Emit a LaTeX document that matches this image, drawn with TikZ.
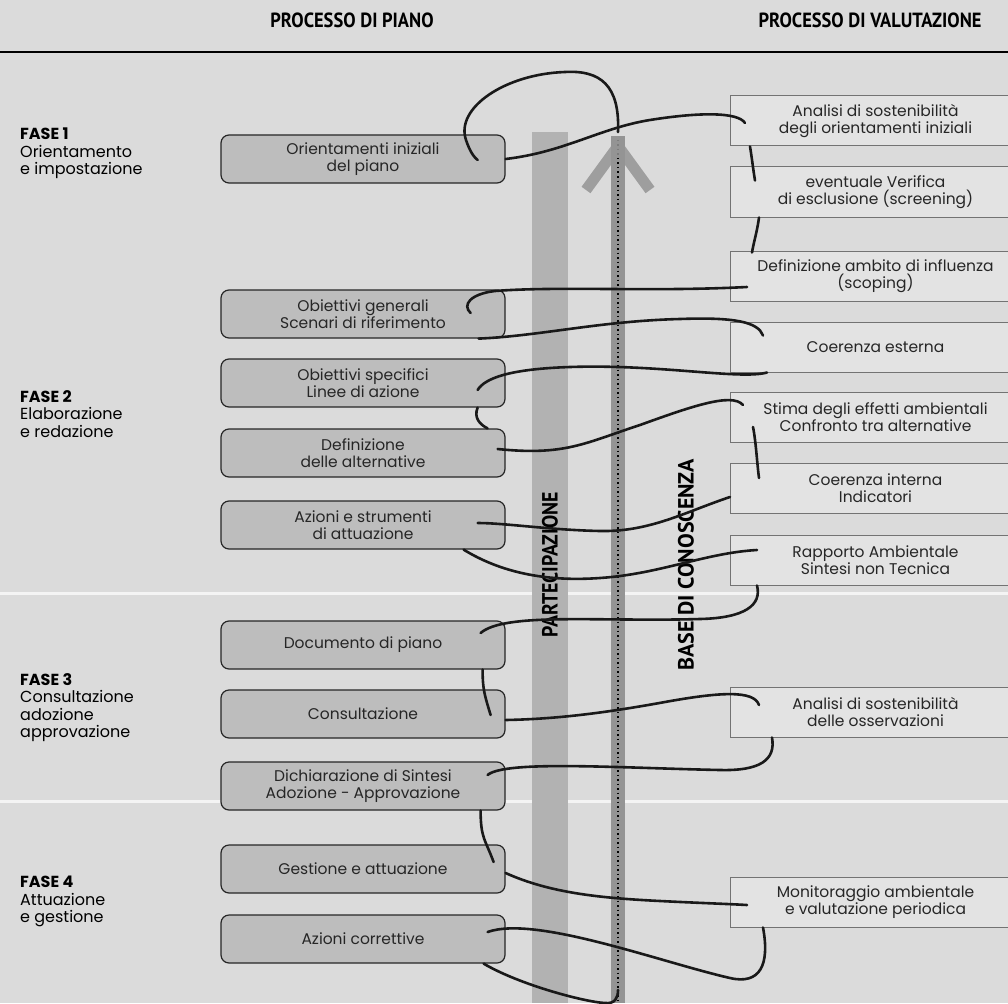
\documentclass[tikz,border=0pt]{standalone}
\usepackage{fontspec}
\setmainfont{Poppins}
\newfontfamily\headfont[FakeStretch=0.9]{PT Sans}
\newfontfamily\basefont[FakeStretch=1.0]{PT Sans}
\usepackage{xcolor}

\definecolor{sfondo}{gray}{0.86}
\definecolor{pianocol}{gray}{0.74}
\definecolor{valcol}{gray}{0.89}
\definecolor{barcol}{gray}{0.70}
\definecolor{frecciacol}{gray}{0.58}

\tikzset{
  pianobox/.style={draw=black!85, line width=1.2pt, fill=pianocol, rounded corners=8pt,
    minimum width=284pt, minimum height=48pt, align=center,
    font=\fontsize{15.5}{16.5}\selectfont, text=black!85},
  valbox/.style={draw=black!55, line width=1pt, fill=valcol, anchor=west,
    minimum width=290pt, minimum height=50pt, align=center,
    font=\fontsize{15.5}{16.5}\selectfont, text=black!85},
  fase/.style={anchor=north west, align=left, inner sep=0pt,
    font=\fontsize{16}{17.5}\selectfont},
  titolo/.style={font=\headfont\bfseries\fontsize{20.5}{22}\selectfont},
  verticale/.style={rotate=90, font=\headfont\bfseries\fontsize{22}{22}\selectfont},
  thread/.style={line width=2.6pt, black!90, line cap=round}
}

\begin{document}
\begin{tikzpicture}[x=1pt,y=-1pt]
  \useasboundingbox (0,0) rectangle (1008,1003);
  \fill[sfondo] (0,0) rectangle (1008,1003);

  % separazione fasi
  \draw[white!70!sfondo, line width=3pt] (0,593) -- (1008,593);
  \draw[white!70!sfondo, line width=3pt] (0,801) -- (1008,801);

  % intestazione
  \node[titolo] (hpiano) at (352,20) {PROCESSO DI PIANO};
  \node[titolo] (hval) at (870,20) {PROCESSO DI VALUTAZIONE};
  \draw[line width=1.6pt] (0,52) -- (1008,52);

  % fasi
  \node[fase] (fase1) at (20,128) {\textbf{FASE 1}\\Orientamento\\e impostazione};
  \node[fase] (fase2) at (20,390) {\textbf{FASE 2}\\Elaborazione\\e redazione};
  \node[fase] (fase3) at (20,673) {\textbf{FASE 3}\\Consultazione\\adozione\\approvazione};
  \node[fase] (fase4) at (20,876) {\textbf{FASE 4}\\Attuazione\\e gestione};

  % partecipazione e base di conoscenza
  \fill[barcol] (532,132) rectangle (568,1003);
  \fill[frecciacol] (611,136) rectangle (625,1003);
  \draw[black, line width=2pt, dash pattern=on 1.5pt off 3pt] (618,140) -- (618,1003);
  \draw[frecciacol, line width=11pt, opacity=0.85] (586,190) -- (618,146) -- (650,190);
  \coordinate (tip) at (618,132);
  \coordinate (base) at (618,990);
  \node[verticale] (partec) at (550,565) {PARTECIPAZIONE};
  \node[verticale, font=\basefont\bfseries\fontsize{22}{22}\selectfont] (conosc) at (686,565) {BASE DI CONOSCENZA};

  % processo di piano
  \node[pianobox] (orient) at (363,159) {Orientamenti iniziali\\del piano};
  \node[pianobox] (obgen) at (363,314) {Obiettivi generali\\Scenari di riferimento};
  \node[pianobox] (obspec) at (363,383) {Obiettivi specifici\\Linee di azione};
  \node[pianobox] (altern) at (363,453) {Definizione\\delle alternative};
  \node[pianobox] (azioni) at (363,525) {Azioni e strumenti\\di attuazione};
  \node[pianobox] (docum) at (363,645) {Documento di piano};
  \node[pianobox] (consult) at (363,714) {Consultazione};
  \node[pianobox] (dichiar) at (363,786) {Dichiarazione di Sintesi\\Adozione - Approvazione};
  \node[pianobox] (gestione) at (363,869) {Gestione e attuazione};
  \node[pianobox] (corrett) at (363,939) {Azioni correttive};

  % processo di valutazione
  \node[valbox] (anOrient) at (730,121) {Analisi di sostenibilità\\degli orientamenti iniziali};
  \node[valbox] (screen) at (730,192) {eventuale Verifica\\di esclusione (screening)};
  \node[valbox] (scoping) at (730,276) {Definizione ambito di influenza\\(scoping)};
  \node[valbox] (cohEst) at (730,347) {Coerenza esterna};
  \node[valbox] (stima) at (730,417) {Stima degli effetti ambientali\\Confronto tra alternative};
  \node[valbox] (cohInt) at (730,488) {Coerenza interna\\Indicatori};
  \node[valbox] (rapporto) at (730,560) {Rapporto Ambientale\\Sintesi non Tecnica};
  \node[valbox] (anOss) at (730,712) {Analisi di sostenibilità\\delle osservazioni};
  \node[valbox] (monit) at (730,902) {Monitoraggio ambientale\\e valutazione periodica};

  % il filo che lega i due processi
  \draw[thread] (tip) .. controls (620,85) and (600,70) .. (565,72)
    .. controls (505,74) and (455,108) .. (466,140)
    .. controls (470,152) and (474,157) .. ([xshift=-28pt,yshift=-1pt]orient.east);
  \draw[thread] (orient.east) .. controls (565,152) and (600,128) .. (650,120)
    .. controls (700,112) and (738,112) .. ([xshift=15pt,yshift=-2pt]anOrient.west);
  \draw[thread] ([xshift=20pt]anOrient.south west) .. controls +(2,12) and +(-2,-12) .. ([xshift=25pt,yshift=-14pt]screen.north west);
  \draw[thread] ([xshift=29pt]screen.south west) .. controls +(-2,15) and +(2,-12) .. ([xshift=22pt,yshift=-2pt]scoping.north west);
  \draw[thread] ([xshift=17pt,yshift=-11pt]scoping.west) .. controls (650,292) and (560,286) .. (495,291)
    .. controls (470,294) and (462,305) .. ([xshift=-35pt,yshift=1pt]obgen.east);
  \draw[thread] ([xshift=-27pt]obgen.south east) .. controls (540,336) and (600,321) .. (680,319)
    .. controls (735,317) and (758,322) .. ([xshift=33pt,yshift=-14pt]cohEst.north west);
  \draw[thread] ([xshift=37pt]cohEst.south west) .. controls (740,380) and (660,364) .. (570,367)
    .. controls (510,369) and (485,378) .. ([xshift=-28pt,yshift=-7pt]obspec.east);
  \draw[thread] ([xshift=-28pt]obspec.south east) .. controls +(-4,10) and +(-8,-4) .. ([xshift=-18pt]altern.north east);
  \draw[thread] ([xshift=-8pt,yshift=4pt]altern.east) .. controls (565,456) and (585,443) .. (640,425)
    .. controls (690,407) and (732,392) .. ([xshift=13pt,yshift=12pt]stima.west);
  \draw[thread] ([xshift=23pt,yshift=-10pt]stima.west) .. controls +(3,15) and +(-2,-15) .. ([xshift=29pt,yshift=10pt]cohInt.west);
  \draw[thread] ([yshift=-9pt]cohInt.west) .. controls (685,512) and (650,532) .. (600,531)
    .. controls (550,530) and (505,523) .. ([xshift=-28pt,yshift=2pt]azioni.east);
  \draw[thread] ([xshift=-42pt]azioni.south east) .. controls (500,572) and (545,582) .. (600,578)
    .. controls (660,574) and (705,553) .. ([xshift=27pt,yshift=10pt]rapporto.west);
  \draw[thread] ([xshift=27pt]rapporto.south west) .. controls (762,605) and (745,618) .. (700,619)
    .. controls (600,622) and (505,612) .. ([xshift=-25pt,yshift=12pt]docum.east);
  \draw[thread] ([xshift=-23pt]docum.south east) .. controls +(0,20) and +(-6,-20) .. ([xshift=-15pt,yshift=-1pt]consult.east);
  \draw[thread] ([yshift=-6pt]consult.east) .. controls (560,719) and (610,712) .. (665,702)
    .. controls (720,692) and (754,690) .. ([xshift=29pt,yshift=7pt]anOss.west);
  \draw[thread] ([xshift=42pt]anOss.south west) .. controls (776,760) and (760,771) .. (720,770)
    .. controls (620,768) and (505,760) .. ([xshift=-18pt,yshift=11pt]dichiar.east);
  \draw[thread] ([xshift=-25pt]dichiar.south east) .. controls +(0,28) and +(-8,-22) .. ([xshift=-12pt,yshift=7pt]gestione.east);
  \draw[thread] ([yshift=-4pt]gestione.east) .. controls (550,893) and (600,898) .. (660,901)
    .. controls (700,903) and (730,904) .. ([xshift=17pt,yshift=-3pt]monit.west);
  \draw[thread] ([xshift=33pt]monit.south west) .. controls (770,965) and (760,985) .. (730,978)
    .. controls (660,962) and (535,915) .. ([xshift=-18pt,yshift=7pt]corrett.east);
  \draw[thread] ([xshift=-22pt]corrett.south east) .. controls (520,985) and (585,1002) .. (605,1003)
    .. controls (615,1004) and (618,998) .. (base);
\end{tikzpicture}
\end{document}
